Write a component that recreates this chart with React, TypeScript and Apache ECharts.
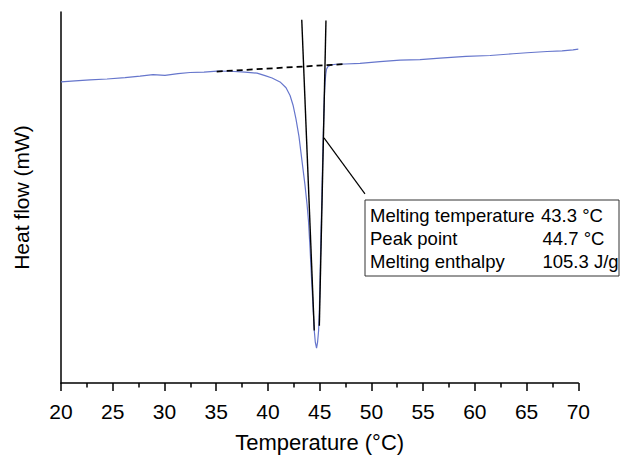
import React, { useEffect, useRef } from "react";
import * as echarts from "echarts";

// Temperature (°C) and heat flow (mW, arbitrary offset)
const temperature = [
  20.0, 21.35, 22.8, 24.45, 26.19, 27.64, 28.89, 30.05, 31.31, 32.47, 33.82, 35.08, 36.34, 37.79, 38.95,
  39.72, 40.4, 41.17, 41.75, 42.14, 42.43, 42.71, 43.0, 43.29, 43.58, 43.78, 43.92, 44.07, 44.21, 44.36,
  44.48, 44.58, 44.7, 44.8, 44.9, 44.97, 45.03, 45.11, 45.2, 45.28, 45.37, 45.45, 45.52, 45.59, 45.66,
  45.81, 46.1, 46.58, 47.45, 48.9, 50.83, 52.77, 54.7, 56.63, 59.15, 61.47, 63.69, 65.04, 66.98, 68.43,
  69.49, 70.0,
];
const heatFlow = [
  -1.885, -1.859, -1.832, -1.806, -1.767, -1.728, -1.688, -1.709, -1.662, -1.631, -1.618, -1.592, -1.597,
  -1.618, -1.649, -1.715, -1.78, -1.885, -2.042, -2.251, -2.513, -2.88, -3.351, -4.005, -4.66, -5.183,
  -5.628, -6.361, -7.147, -7.932, -8.586, -8.901, -9.058, -8.901, -8.586, -8.063, -7.277, -6.23, -5.183,
  -4.136, -3.089, -2.304, -1.911, -1.675, -1.545, -1.466, -1.427, -1.408, -1.401, -1.387, -1.335, -1.296,
  -1.283, -1.243, -1.196, -1.173, -1.126, -1.099, -1.065, -1.047, -1.021, -1.003,
];

// Construction lines
const baselineT = [35.05, 47.26];
const baselineHF = [-1.605, -1.406];
const leftTangentT = [43.27, 44.48];
const leftTangentHF = [-0.209, -8.586];
const rightTangentT = [45.61, 44.97];
const rightTangentHF = [-0.228, -8.455];
const leaderT = [45.42, 49.38];
const leaderHF = [-3.395, -4.903];

const xTicks = ["20", "25", "30", "35", "40", "45", "50", "55", "60", "65", "70"];

const infoLabels = ["Melting temperature", "Peak point", "Melting enthalpy"];
const infoValues = ["43.3 °C", "44.7 °C", "105.3 J/g"];

const FONT = "'Liberation Sans', Arial, Helvetica, sans-serif";

function pairs(xs: number[], ys: number[]) {
  return xs.map((x, i) => [x, ys[i]]);
}

export default function App() {
  const ref = useRef<HTMLDivElement>(null);
  useEffect(() => {
    if (!ref.current) return;
    const chart = echarts.init(ref.current, null, { renderer: "svg" });
    const boxX = 365;
    const boxY = 200;
    const lineYs = [215.5, 238.5, 261];
    const graphics: any[] = [
      {
        type: "rect",
        shape: { x: boxX, y: boxY, width: 254, height: 76 },
        style: { fill: "#fff", stroke: "#333", lineWidth: 1 },
        z: 100,
      },
    ];
    infoLabels.forEach((t, i) => {
      graphics.push({
        type: "text",
        x: 370,
        y: lineYs[i],
        style: { text: t, fill: "#000", font: `18.5px ${FONT}`, verticalAlign: "middle", align: "left" },
        z: 101,
      });
      graphics.push({
        type: "text",
        x: i === 0 ? 541 : 542.5,
        y: lineYs[i],
        style: { text: infoValues[i], fill: "#000", font: `18.5px ${FONT}`, verticalAlign: "middle", align: "left" },
        z: 101,
      });
    });
    chart.setOption({
      animation: false,
      backgroundColor: "#fff",
      grid: { left: 61, right: 43.7, top: 12, bottom: 64, containLabel: false },
      xAxis: {
        type: "value",
        min: 20,
        max: 70,
        interval: 5,
        name: "Temperature (°C)",
        nameLocation: "middle",
        nameGap: 48,
        nameTextStyle: { color: "#000", fontSize: 22, fontFamily: FONT },
        axisLine: { show: true, onZero: false, lineStyle: { color: "#000", width: 1.5 } },
        axisTick: { show: true, inside: false, length: 8, lineStyle: { color: "#000", width: 1.5 } },
        minorTick: { show: true, splitNumber: 2, length: 4.5, lineStyle: { color: "#000", width: 1.5 } },
        axisLabel: {
          color: "#000",
          fontSize: 21,
          fontFamily: FONT,
          margin: 18,
          formatter: (v: number) => xTicks[Math.round((v - 20) / 5)] ?? String(v),
        },
        splitLine: { show: false },
      },
      yAxis: {
        type: "value",
        min: -10,
        max: 0,
        name: "Heat flow (mW)",
        nameLocation: "middle",
        nameGap: 29,
        nameTextStyle: { color: "#000", fontSize: 21, fontFamily: FONT },
        axisLine: { show: true, onZero: false, lineStyle: { color: "#000", width: 1.5 } },
        axisTick: { show: false },
        axisLabel: { show: false },
        splitLine: { show: false },
      },
      series: [
        {
          type: "line",
          data: pairs(temperature, heatFlow),
          showSymbol: false,
          smooth: false,
          lineStyle: { color: "#6676cc", width: 1.2 },
          z: 2,
        },
        {
          type: "line",
          data: pairs(baselineT, baselineHF),
          showSymbol: false,
          lineStyle: { color: "#000", width: 1.8, type: [6, 4] },
          z: 3,
        },
        {
          type: "line",
          data: pairs(leftTangentT, leftTangentHF),
          showSymbol: false,
          lineStyle: { color: "#000", width: 1.4 },
          z: 4,
        },
        {
          type: "line",
          data: pairs(rightTangentT, rightTangentHF),
          showSymbol: false,
          lineStyle: { color: "#000", width: 1.4 },
          z: 4,
        },
        {
          type: "line",
          data: pairs(leaderT, leaderHF),
          showSymbol: false,
          lineStyle: { color: "#000", width: 1.2 },
          z: 4,
        },
      ],
      graphic: graphics,
    });
    return () => chart.dispose();
  }, []);
  return (
    <div
      ref={ref}
      style={{ position: "absolute", left: 0, top: 0, width: 622, height: 458, background: "#fff" }}
    />
  );
}
